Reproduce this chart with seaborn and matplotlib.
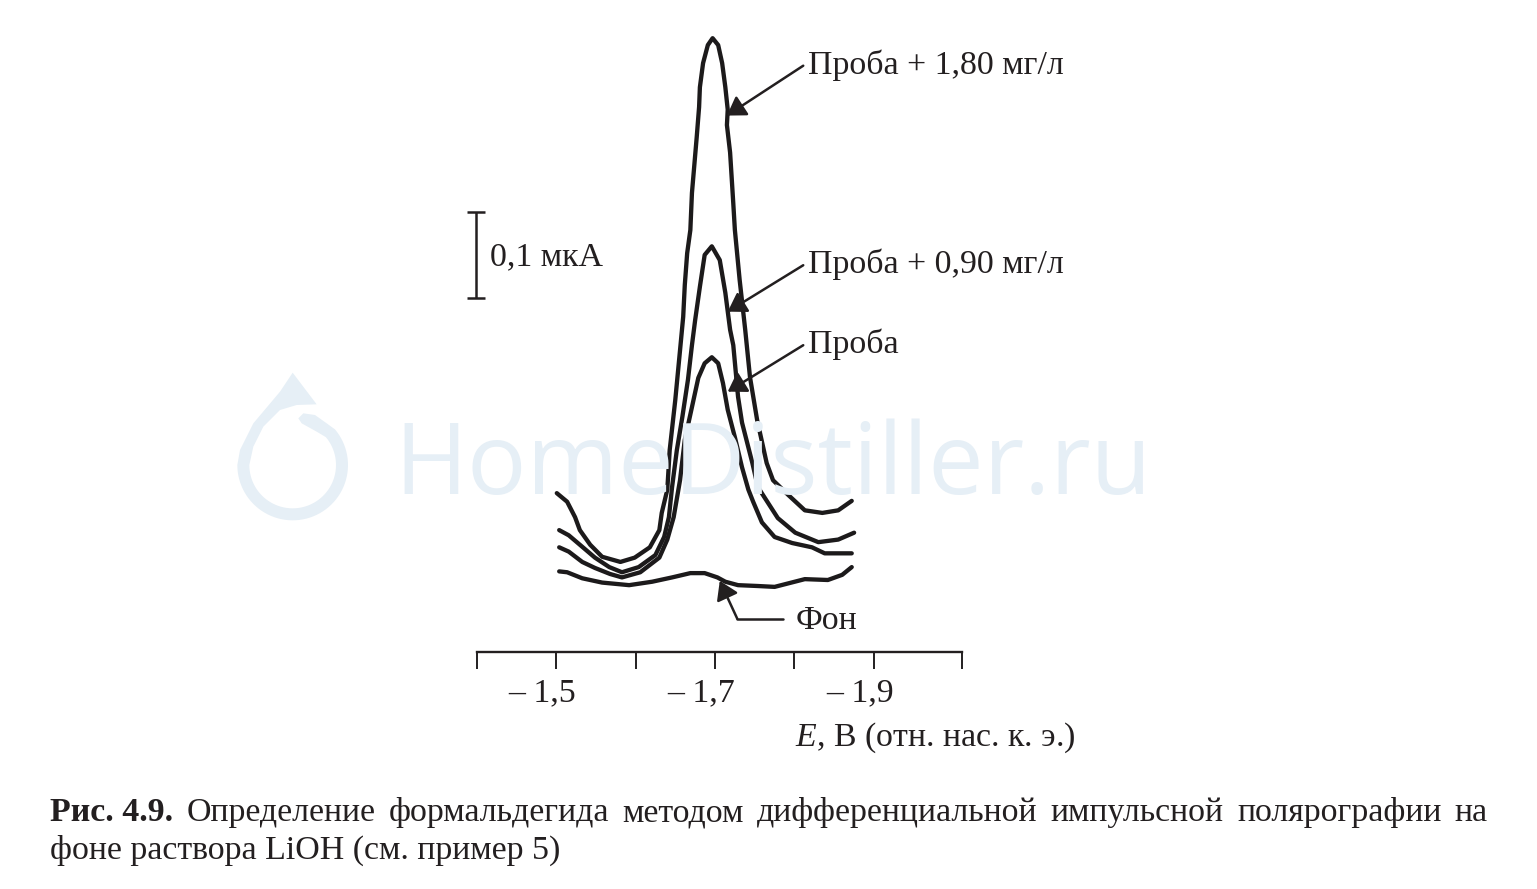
import numpy as np
import pandas as pd
import matplotlib
matplotlib.use("Agg")
import matplotlib.pyplot as plt
from matplotlib.patches import Polygon
from matplotlib.transforms import Affine2D, IdentityTransform, ScaledTranslation
import seaborn as sns

# curves: E (V) and current (uA, relative to the background level)
e_180 = [-1.501, -1.514, -1.524, -1.530, -1.543, -1.558, -1.581, -1.599, -1.618, -1.630, -1.633, -1.640,
         -1.643, -1.650, -1.656, -1.660, -1.662, -1.665, -1.669, -1.671, -1.677, -1.680, -1.681, -1.685, -1.691,
         -1.697, -1.704, -1.709, -1.713, -1.716, -1.715, -1.719, -1.723, -1.725, -1.731, -1.738, -1.744,
         -1.753, -1.765, -1.773, -1.792, -1.813, -1.835, -1.855, -1.872]
i_180 = [0.101, 0.091, 0.073, 0.058, 0.041, 0.027, 0.021, 0.026, 0.038, 0.058, 0.078, 0.105,
         0.151, 0.209, 0.267, 0.306, 0.343, 0.380, 0.407, 0.450, 0.515, 0.550, 0.573, 0.601, 0.622,
         0.630, 0.622, 0.601, 0.573, 0.547, 0.529, 0.497, 0.438, 0.407, 0.349, 0.291, 0.236,
         0.186, 0.136, 0.116, 0.099, 0.081, 0.078, 0.081, 0.092]
e_090 = [-1.504, -1.516, -1.530, -1.549, -1.567, -1.583, -1.604, -1.625, -1.636, -1.642, -1.646, -1.652,
         -1.659, -1.666, -1.671, -1.675, -1.681, -1.687, -1.696, -1.706, -1.713, -1.719, -1.723, -1.729,
         -1.734, -1.747, -1.754, -1.763, -1.779, -1.801, -1.830, -1.855, -1.875]
i_090 = [0.058, 0.052, 0.041, 0.026, 0.015, 0.009, 0.015, 0.029, 0.050, 0.073, 0.108, 0.151,
         0.190, 0.233, 0.273, 0.302, 0.341, 0.378, 0.388, 0.372, 0.334, 0.291, 0.273, 0.213,
         0.183, 0.136, 0.108, 0.095, 0.072, 0.055, 0.044, 0.047, 0.055]
e_probe = [-1.504, -1.516, -1.533, -1.549, -1.568, -1.583, -1.606, -1.630, -1.640, -1.648, -1.656, -1.662,
           -1.671, -1.679, -1.687, -1.696, -1.704, -1.710, -1.716, -1.725, -1.734, -1.742, -1.748, -1.759,
           -1.775, -1.797, -1.822, -1.838, -1.872]
i_probe = [0.038, 0.033, 0.021, 0.014, 0.007, 0.003, 0.009, 0.026, 0.047, 0.073, 0.116, 0.163,
           0.201, 0.235, 0.252, 0.259, 0.252, 0.229, 0.198, 0.166, 0.131, 0.105, 0.091, 0.067,
           0.050, 0.043, 0.038, 0.031, 0.031]
e_bg = [-1.504, -1.514, -1.533, -1.558, -1.592, -1.621, -1.646, -1.669, -1.687, -1.703, -1.713, -1.729,
        -1.754, -1.775, -1.813, -1.842, -1.860, -1.872]
i_bg = [0.010, 0.009, 0.002, -0.003, -0.006, -0.002, 0.003, 0.008, 0.008, 0.003, -0.002, -0.006,
        -0.007, -0.008, 0.001, 0.000, 0.006, 0.015]

tick_pos = [-1.4, -1.5, -1.6, -1.7, -1.8, -1.9, -2.011]
tick_labels = ["", "\u2013 1,5", "", "\u2013 1,7", "", "\u2013 1,9", ""]

labels = ["Проба + 1,80 мг/л", "Проба + 0,90 мг/л", "Проба"]
label_tips = [(-1.715, 0.540), (-1.716, 0.312), (-1.716, 0.219)]
label_starts = [(-1.811, 0.598), (-1.811, 0.366), (-1.811, 0.273)]

caption_bold = "Рис. 4.9."
caption_1 = "Определение формальдегида методом дифференциальной импульсной полярографии на"
caption_2 = "фоне раствора LiOH (см. пример 5)"

INK = "#231f20"
WATER = "#e6eff6"
W, H = 1537, 889

sns.set_theme(style="white")
plt.rcParams["font.family"] = ["Liberation Serif", "DejaVu Serif"]
plt.rcParams["mathtext.fontset"] = "custom"
plt.rcParams["mathtext.it"] = "Liberation Serif:italic"
plt.rcParams["mathtext.rm"] = "Liberation Serif"
FS = 24.4

fig = plt.figure(figsize=(W / 100, H / 100), dpi=100)
ax = fig.add_axes([0, 0, 1, 1])
ax.patch.set_alpha(0)
ax.set_xlim(-0.8006, -2.734)
ax.set_ylim(-0.3593, 0.6744)

# watermark
fig.text(394 / W, 1 - 494 / H, "HomeDistiller.ru", family="Open Sans", fontsize=71.3, color=WATER, zorder=0)
ang = np.radians(np.linspace(180, 400, 60))
outer = np.c_[218 + 166 * np.cos(ang), 315 - 166 * np.sin(ang)]
ang2 = np.radians(np.linspace(400, 180, 60))
inner = np.c_[218 + 130 * np.cos(ang2), 315 - 130 * np.sin(ang2)]
blob = [(320, 190), (285, 165), (250, 160), (235, 175), (245, 190), (290, 215)]
tip = [(100, 260), (130, 200), (180, 150), (230, 135), (290, 133), (218, 38), (180, 95), (100, 190), (60, 270)]
icon = np.vstack([outer, blob, inner, tip])
to_px = Affine2D().scale(1 / 3, -1 / 3).translate(220, H - 360) + IdentityTransform()
fig.add_artist(Polygon(icon, closed=True, facecolor=WATER, edgecolor="none", transform=to_px, zorder=0))

# curves
for xs, ys in [(e_180, i_180), (e_090, i_090), (e_probe, i_probe), (e_bg, i_bg)]:
    df = pd.DataFrame({"E": xs, "I": ys})
    sns.lineplot(data=df, x="E", y="I", color="#1c1a1b", linewidth=3.1, estimator=None, sort=False, ax=ax,
                 solid_joinstyle="round", solid_capstyle="round")

# arrows and labels
arrow = dict(arrowstyle="-|>,head_length=0.55,head_width=0.35", color=INK, lw=1.8, shrinkA=0, shrinkB=0,
             mutation_scale=20)
for text, start, end, py in zip(labels, label_starts, label_tips, [74, 273, 353]):
    ax.annotate("", xy=end, xytext=start, arrowprops=arrow)
    fig.text(808 / W, 1 - py / H, text, fontsize=FS, color=INK)
ax.plot([-1.786, -1.728], [-0.045, -0.045], color=INK, lw=1.8)
ax.annotate("", xy=(-1.706, -0.001), xytext=(-1.728, -0.045), arrowprops=arrow)
fig.text(796 / W, 1 - 629 / H, "Фон", fontsize=FS, color=INK)

# 0.1 uA scale bar
ax.errorbar([-1.399], [0.378], yerr=[0.05], color=INK, lw=1.8, capsize=6.5, capthick=1.8)
fig.text(490 / W, 1 - 265 / H, "0,1 мкА", fontsize=FS, color=INK)

# axis
for s in ["top", "left", "right"]:
    ax.spines[s].set_visible(False)
ax.spines["bottom"].set_position(("data", -0.0837))
ax.spines["bottom"].set_bounds(-1.4, -2.011)
ax.spines["bottom"].set_color(INK)
ax.spines["bottom"].set_linewidth(1.7)
ax.set_yticks([])
ax.set_xticks(tick_pos)
ax.set_xticklabels(tick_labels, fontsize=FS, color=INK)
ax.tick_params(axis="x", bottom=True, direction="out", length=12, width=1.4, color=INK, pad=6.3)
shift = ScaledTranslation(-14 / 100, 0, fig.dpi_scale_trans)
for lab in ax.get_xticklabels():
    lab.set_transform(lab.get_transform() + shift)
ax.set_xlabel("$E$, В (отн. нас. к. э.)", fontsize=FS, color=INK, ha="left", va="baseline")
ax.xaxis.set_label_coords(795 / W, 1 - 746 / H)
ax.set_ylabel("")

# caption, first line justified to the page width
renderer = fig.canvas.get_renderer()
words = [(caption_bold, "bold")] + [(w, "normal") for w in caption_1.split()]
items = [fig.text(0, 1 - 821 / H, w, fontsize=FS, color=INK, weight=b) for w, b in words]
widths = [t.get_window_extent(renderer).width for t in items]
gap = (1488 - 50 - sum(widths)) / (len(items) - 1)
x = 50
for t, wd in zip(items, widths):
    t.set_x(x / W)
    x += wd + gap
fig.text(50 / W, 1 - 859 / H, caption_2, fontsize=FS, color=INK)

fig.savefig("out.png", dpi=100, facecolor="white")
